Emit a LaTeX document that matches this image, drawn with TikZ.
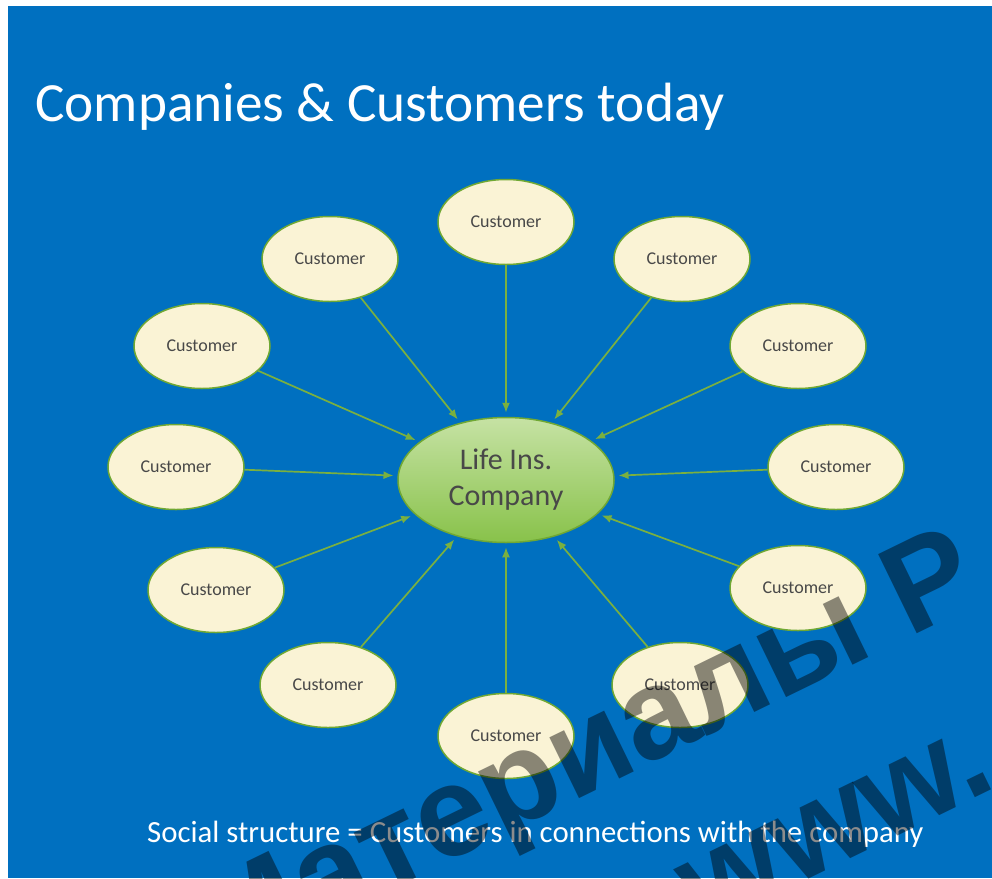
\documentclass[tikz,border=0pt]{standalone}
\usepackage{fontspec}
\setmainfont{Carlito}
\newfontfamily\markfont{Liberation Sans}
\usetikzlibrary{shapes.geometric,arrows.meta}

\definecolor{slideblue}{RGB}{0,112,192}
\definecolor{custfill}{RGB}{250,243,213}
\definecolor{leafgreen}{RGB}{122,176,64}
\definecolor{rimgreen}{RGB}{112,168,52}
\definecolor{hubtop}{RGB}{198,226,164}
\definecolor{hubbottom}{RGB}{136,194,74}
\definecolor{labelgray}{RGB}{72,72,72}

\begin{document}
\begin{tikzpicture}[x=1pt,y=-1pt,
  customer/.style={ellipse, draw=rimgreen, line width=1.5pt, fill=custfill,
    minimum width=136pt, minimum height=85pt, inner sep=0pt,
    text=labelgray, font=\fontsize{18}{21}\selectfont},
  hub/.style={ellipse, draw=rimgreen, line width=1.5pt,
    top color=hubtop, bottom color=hubbottom,
    minimum width=216pt, minimum height=125pt, inner sep=0pt,
    text=labelgray, align=center, font=\fontsize{30}{36}\selectfont},
  link/.style={draw=leafgreen, line width=1.7pt,
    -{Latex[length=10pt,width=8pt]}, shorten >=4pt},
  heading/.style={text=white, inner sep=0pt, anchor=base west},
  stamptext/.style={text=black, text opacity=0.45, inner sep=0pt,
    rotate=26, font=\markfont\bfseries\fontsize{128}{128}\selectfont}
]
\useasboundingbox (0,0) rectangle (992,878);

% slide background with a thin white margin at top and left
\fill[white] (0,0) rectangle (992,878);
\fill[slideblue] (8,6) rectangle (992,878);

% titles
\node[heading, font=\fontsize{55.3}{60}\selectfont] (title) at (35,121)
  {Companies \& Customers today};
\node[heading, font=\fontsize{30.8}{36}\selectfont] (caption) at (147,842)
  {Social structure = Customers in connections with the company};

% the company in the middle
\node[hub] (hub) at (506,480) {Life Ins.\\Company};

% customers around it
\node[customer] (c1)  at (506,222) {Customer};
\node[customer] (c2)  at (330,259) {Customer};
\node[customer] (c3)  at (682,259) {Customer};
\node[customer] (c4)  at (202,346) {Customer};
\node[customer] (c5)  at (798,346) {Customer};
\node[customer] (c6)  at (176,467) {Customer};
\node[customer] (c7)  at (836,467) {Customer};
\node[customer] (c8)  at (216,590) {Customer};
\node[customer] (c9)  at (798,588) {Customer};
\node[customer] (c10) at (328,685) {Customer};
\node[customer] (c11) at (680,685) {Customer};
\node[customer] (c12) at (506,736) {Customer};

% every customer points to the company
\foreach \i in {1,...,12}
  \draw[link] (c\i) -- (hub);

% translucent stamp across the lower right
\begin{scope}
  \clip (8,6) rectangle (992,878);
  \node[stamptext, anchor=base east] (stampA) at (986,600) {Материалы Р};
  \node[stamptext, anchor=base east] (stampB) at (1000,786) {www.};
\end{scope}
\end{tikzpicture}
\end{document}
